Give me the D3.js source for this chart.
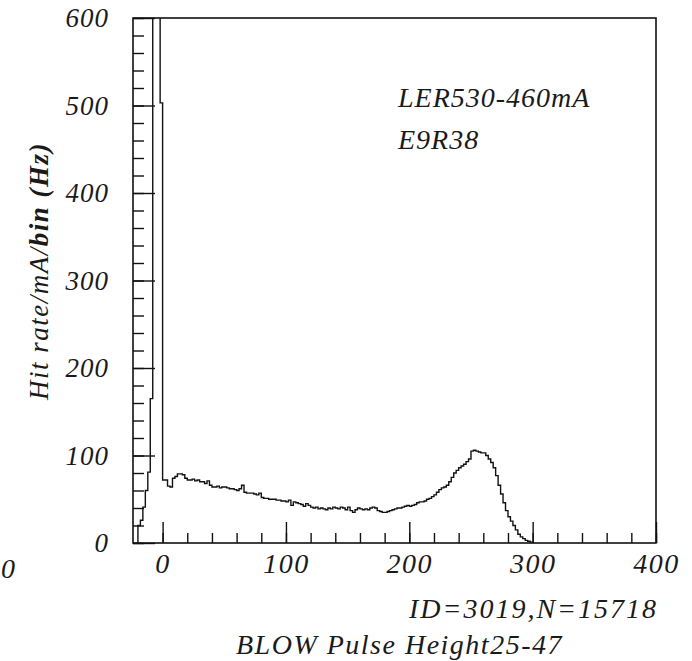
<!DOCTYPE html>
<html>
<head>
<meta charset="utf-8">
<script src="https://cdn.jsdelivr.net/npm/d3@7"></script>
<style>
    body { margin: 0; background: #fff; }
    svg text { font-family: "Liberation Serif", serif; font-style: italic; fill: #1a1a1a; }
</style>
</head>
<body>
<div id="chart"></div>
<script>

// histogram bins: start at -20, width 2
const binStart = -20;
const binWidth = 2;

// bins -20 .. -2 (the pedestal spike, three bins go off scale)
const spikeRate = [20, 26, 41, 60, 81, 165, 950, 1400, 900, 503];

// bins 0 .. 298
const bodyRate = [
    72, 72, 65, 64, 74,   76, 79, 79, 78, 74,
    72, 72, 73, 71, 72,   70, 70, 68, 71, 66,
    64, 64, 65, 63, 64,   64, 63, 62, 62, 61,
    60, 62, 66, 58, 57,   57, 57, 56, 55, 57,
    52, 51, 51, 50, 50,   50, 49, 49, 48, 48,
    47, 49, 43, 47, 46,   45, 44, 42, 45, 43,
    41, 40, 41, 39, 40,   39, 38, 40, 39, 41,
    40, 39, 41, 40, 38,   41, 37, 35, 38, 40,
    39, 38, 39, 38, 40,   41, 40, 37, 36, 35,
    35, 36, 37, 38, 39,   40, 40, 41, 42, 43,
    42, 43, 44, 46, 47,   47, 48, 50, 51, 53,
    55, 58, 61, 63, 64,   66, 70, 75, 80, 83,
    86, 88, 90, 93, 96,   105, 106, 105, 104, 103,
    103, 100, 96, 92, 86,  77, 66, 56, 46, 37,
    30, 25, 20, 15, 10,   7, 5, 3, 2, 1
];

const xTicks = [0, 100, 200, 300, 400];
const yTicks = [0, 100, 200, 300, 400, 500, 600];
const infoLines = ["LER530-460mA", "E9R38"];
const idLine = "ID=3019,N=15718";
const xTitle = "BLOW Pulse Height25-47";


const svg = d3.select("#chart")
    .append("svg")
    .attr("width", 692)
    .attr("height", 661);

const x = d3.scaleLinear().domain([-24, 400]).range([133, 656]);
const y = d3.scaleLinear().domain([0, 600]).range([543, 18]);

svg.append("clipPath")
    .attr("id", "plotclip")
    .append("rect")
    .attr("x", x(-24)).attr("y", y(600))
    .attr("width", x(400) - x(-24)).attr("height", y(0) - y(600));

// DRAW HISTOGRAM
const rates = spikeRate.concat(bodyRate);
const pts = [[binStart, 0]];
rates.forEach(function (v, i) {
    pts.push([binStart + i * binWidth, v]);
});
pts.push([binStart + rates.length * binWidth, 0]);

const stepLine = d3.line()
    .x(d => x(d[0]))
    .y(d => y(d[1]))
    .curve(d3.curveStepAfter);

svg.append("path")
    .datum(pts)
    .attr("clip-path", "url(#plotclip)")
    .attr("d", stepLine)
    .attr("fill", "none")
    .attr("stroke", "#111")
    .attr("stroke-width", 1.4);


// AXES (ticks inside the frame)
const minorY = d3.range(0, 601, 20);
const minorX = d3.range(0, 401, 20);

svg.append("g")
    .attr("class", "axis")
    .attr("transform", `translate(${x(-24)},0)`)
    .call(d3.axisLeft(y).tickValues(minorY).tickSize(-11).tickFormat(""));

const yAxis = svg.append("g")
    .attr("class", "axis")
    .attr("transform", `translate(${x(-24)},0)`)
    .call(d3.axisLeft(y).tickValues(yTicks).tickSize(-22).tickPadding(24));

svg.append("g")
    .attr("class", "axis")
    .attr("transform", `translate(0,${y(0)})`)
    .call(d3.axisBottom(x).tickValues(minorX).tickSize(-10).tickFormat(""));

const xAxis = svg.append("g")
    .attr("class", "axis")
    .attr("transform", `translate(0,${y(0)})`)
    .call(d3.axisBottom(x).tickValues(xTicks).tickSize(-21).tickPadding(10));

svg.selectAll(".axis .domain").remove();
svg.selectAll(".axis line").attr("stroke", "#111").attr("stroke-width", 1.4);
svg.selectAll(".axis text")
    .attr("font-size", 27)
    .attr("letter-spacing", 1)
    .style("font-family", "'Liberation Serif', serif")
    .style("font-style", "italic")
    .attr("fill", "#1a1a1a");
xAxis.selectAll("text")
    .attr("font-size", 28)
    .attr("letter-spacing", 1.5);

// frame
svg.append("rect")
    .attr("x", x(-24)).attr("y", y(600))
    .attr("width", x(400) - x(-24)).attr("height", y(0) - y(600))
    .attr("fill", "none")
    .attr("stroke", "#111")
    .attr("stroke-width", 1.6);

// stray zero left of the x axis
svg.append("text")
    .attr("x", 1).attr("y", 578)
    .attr("font-size", 28)
    .text("0");


// TEXT
const yTitle = svg.append("text")
    .attr("transform", "translate(48,271) rotate(-90)")
    .attr("text-anchor", "middle")
    .attr("font-size", 27)
    .attr("letter-spacing", 1.5);
yTitle.append("tspan").text("Hit rate/mA/");
yTitle.append("tspan").attr("font-weight", "bold").text("bin (Hz)");

svg.selectAll("text.info")
    .data(infoLines)
    .enter()
    .append("text")
    .attr("class", "info")
    .attr("x", 398)
    .attr("y", (d, i) => 107 + i * 42)
    .attr("font-size", 28)
    .attr("letter-spacing", 1)
    .text(d => d);

svg.append("text")
    .attr("x", 658).attr("y", 618)
    .attr("text-anchor", "end")
    .attr("font-size", 28)
    .attr("letter-spacing", 2)
    .text(idLine);

svg.append("text")
    .attr("x", 236).attr("y", 654)
    .attr("font-size", 28)
    .attr("letter-spacing", 1.5)
    .text(xTitle);

</script>
</body>
</html>
